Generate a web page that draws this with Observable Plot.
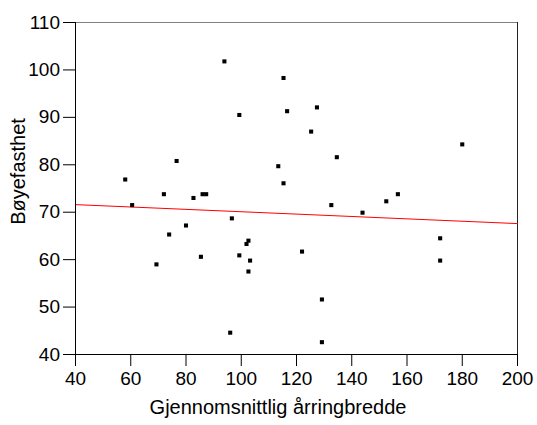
<!DOCTYPE html>
<html>
<head>
<meta charset="utf-8">
<script src="https://cdn.jsdelivr.net/npm/d3@7"></script>
<script src="https://cdn.jsdelivr.net/npm/@observablehq/plot@0.6"></script>
<style>
  html, body { margin: 0; padding: 0; background: #fff; }
  #chart svg { display: block; }
</style>
</head>
<body>
<div id="chart"></div>
<script>
// Data
const arringbredde = [93.9, 115.3, 99.3, 116.6, 76.6, 113.4, 58, 115.3, 72, 82.7, 86, 87.3,
  127.4, 125.3, 180, 134.6, 156.7, 60.5, 96.6, 80, 73.9, 101.9, 102.6, 99.3, 85.4, 103.2,
  69.3, 102.6, 96, 132.6, 143.9, 152.5, 172, 172, 122, 129.2, 129.2];
const boyefasthet = [101.8, 98.3, 90.5, 91.3, 80.8, 79.7, 76.9, 76.1, 73.8, 73.0, 73.8, 73.8,
  92.1, 87.0, 84.3, 81.6, 73.8, 71.5, 68.7, 67.2, 65.3, 63.3, 64.0, 60.9, 60.6, 59.8,
  59.0, 57.5, 44.6, 71.5, 69.9, 72.3, 64.5, 59.8, 61.7, 51.6, 42.6];
const fitX = [40, 200];
const fitY = [71.6, 67.6];
const xTicks = [40, 60, 80, 100, 120, 140, 160, 180, 200];
const yTicks = [40, 50, 60, 70, 80, 90, 100, 110];
const xLabel = "Gjennomsnittlig årringbredde";
const yLabel = "Bøyefasthet";

const points = arringbredde.map((x, i) => ({x, y: boyefasthet[i]}));
const fit = fitX.map((x, i) => ({x, y: fitY[i]}));

const chart = Plot.plot({
  width: 537,
  height: 425,
  marginLeft: 75,
  marginRight: 20,
  marginTop: 22,
  marginBottom: 71,
  style: {fontFamily: "'Liberation Sans', Arial, sans-serif", fontSize: "19px", color: "#000", background: "#fff"},
  x: {domain: [40, 200]},
  y: {domain: [40, 110]},
  marks: [
    Plot.ruleY([110], {stroke: "#808080", strokeWidth: 1}),
    Plot.ruleX([200], {stroke: "#222", strokeWidth: 1}),
    Plot.line(fit, {x: "x", y: "y", stroke: "#ff0000", strokeWidth: 1}),
    Plot.dot(points, {x: "x", y: "y", symbol: "square", r: 2.3, fill: "#000", stroke: "none"}),
    Plot.axisX({ticks: xTicks, tickSize: 12, tickPadding: 5, label: null, fontSize: 19, stroke: "#000"}),
    Plot.axisY({ticks: yTicks, tickSize: 12, tickPadding: 3.5, label: null, fontSize: 19, stroke: "#000"}),
    Plot.ruleX([40], {stroke: "#000"}),
    Plot.ruleY([40], {stroke: "#000"}),
    Plot.text([xLabel], {frameAnchor: "bottom", textAnchor: "middle", dx: -18.5, dy: 59, fontSize: 20, fill: "#000", text: d => d}),
    Plot.text([yLabel], {frameAnchor: "left", textAnchor: "middle", dx: -57, dy: -17, rotate: -90, fontSize: 20, fill: "#000", text: d => d})
  ]
});
document.getElementById("chart").appendChild(chart);
</script>
</body>
</html>
